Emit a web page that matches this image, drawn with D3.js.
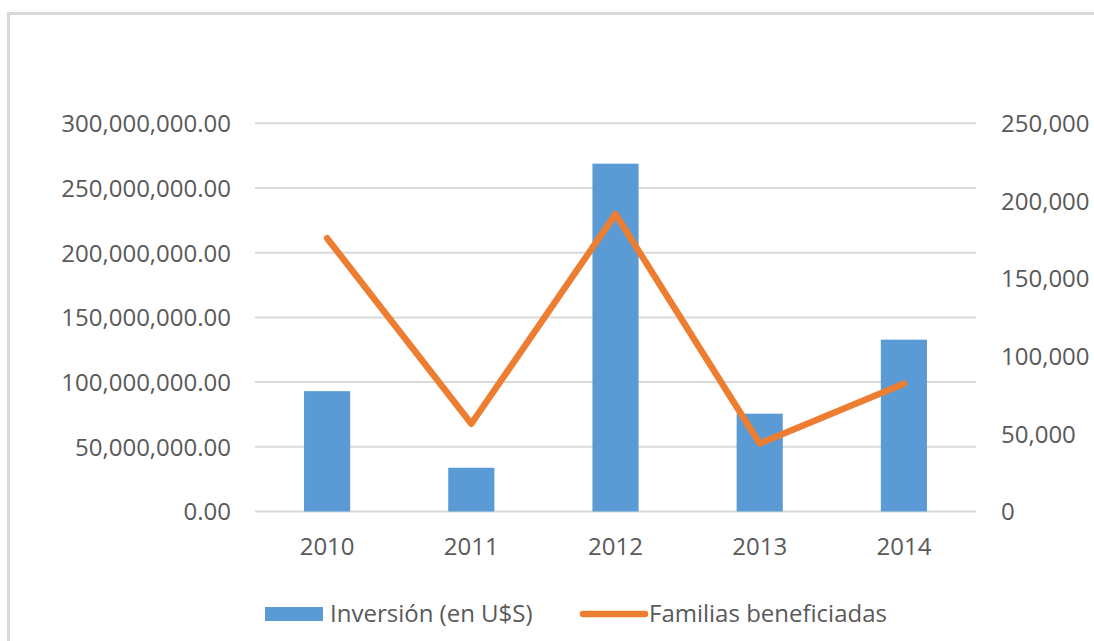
<!DOCTYPE html>
<html lang="es">
<head>
  <meta charset="UTF-8">
  <title>Inversión y familias beneficiadas</title>
  <script src="https://d3js.org/d3.v7.min.js"></script>
  <style>
    body, html {
      margin: 0;
      padding: 0;
      background-color: #fff;
      overflow: hidden;
    }
    svg {
      display: block;
    }
    svg text {
      font-family: 'Open Sans', sans-serif;
      font-size: 24px;
      fill: #595959;
    }
    .axis path, .axis line {
      stroke: none;
    }
  </style>
</head>
<body>
  <svg class="chart"></svg>

  <script>
    // data
    const years = ["2010", "2011", "2012", "2013", "2014"];
    const inversion = [93000000, 33800000, 268800000, 75600000, 132800000];
    const familias = [176000, 56500, 191500, 43800, 82300];
    const leftTicks = [0, 50000000, 100000000, 150000000, 200000000, 250000000, 300000000];
    const rightTicks = [0, 50000, 100000, 150000, 200000, 250000];

    const width = 1094;
    const height = 641;

    const svg = d3.select("svg")
      .attr("width", width)
      .attr("height", height);

    // chart frame, only the top and left edges are inside the window
    svg.append("rect")
      .attr("x", 8.5)
      .attr("y", 13.5)
      .attr("width", width + 100)
      .attr("height", height + 100)
      .attr("fill", "#fff")
      .attr("stroke", "#d9d9d9")
      .attr("stroke-width", 3);

    const plot = { left: 255, right: 976, top: 123.3, bottom: 511.5 };

    const xScale = d3.scaleBand()
      .domain(years)
      .range([plot.left, plot.right])
      .paddingInner(0.68)
      .paddingOuter(0.34);

    const yLeft = d3.scaleLinear()
      .domain([0, 300000000])
      .range([plot.bottom, plot.top]);

    const yRight = d3.scaleLinear()
      .domain([0, 250000])
      .range([plot.bottom, plot.top]);

    // gridlines from the left axis
    svg.append("g")
      .attr("class", "grid")
      .selectAll("line")
      .data(leftTicks)
      .enter().append("line")
      .attr("x1", plot.left)
      .attr("x2", plot.right)
      .attr("y1", d => yLeft(d))
      .attr("y2", d => yLeft(d))
      .style("stroke", "#d9d9d9")
      .style("stroke-width", 2);

    // bars
    svg.append("g")
      .selectAll("rect")
      .data(years)
      .enter().append("rect")
      .attr("x", d => xScale(d))
      .attr("width", xScale.bandwidth())
      .attr("y", (d, i) => yLeft(inversion[i]))
      .attr("height", (d, i) => yLeft(0) - yLeft(inversion[i]))
      .attr("fill", "#5b9bd5");

    // line on the right axis
    const line = d3.line()
      .x((d, i) => xScale(years[i]) + xScale.bandwidth() / 2)
      .y(d => yRight(d));

    svg.append("path")
      .datum(familias)
      .attr("d", line)
      .attr("fill", "none")
      .attr("stroke", "#ed7d31")
      .attr("stroke-width", 6.5)
      .attr("stroke-linejoin", "round")
      .attr("stroke-linecap", "round");

    // axes
    const leftAxis = d3.axisLeft(yLeft)
      .tickValues(leftTicks)
      .tickFormat(d3.format(",.2f"))
      .tickSize(0)
      .tickPadding(24);

    svg.append("g")
      .attr("class", "axis")
      .attr("transform", "translate(" + plot.left + ",0)")
      .call(leftAxis)
      .selectAll("text")
      .attr("dy", "0.35em");

    const rightAxis = d3.axisRight(yRight)
      .tickValues(rightTicks)
      .tickFormat(d3.format(","))
      .tickSize(0)
      .tickPadding(25);

    svg.append("g")
      .attr("class", "axis")
      .attr("transform", "translate(" + plot.right + ",0)")
      .call(rightAxis)
      .selectAll("text")
      .attr("dy", "0.35em");

    const xAxis = d3.axisBottom(xScale)
      .tickSize(0)
      .tickPadding(26);

    svg.append("g")
      .attr("class", "axis")
      .attr("transform", "translate(0," + plot.bottom + ")")
      .call(xAxis);

    // drop d3's default font attrs so the css applies
    svg.selectAll(".axis").attr("font-size", null).attr("font-family", null);
    svg.selectAll(".axis text").attr("fill", null);

    // legend
    const legend = svg.append("g").attr("transform", "translate(0,614)");

    legend.append("rect")
      .attr("x", 265)
      .attr("y", -7)
      .attr("width", 58)
      .attr("height", 14)
      .attr("fill", "#5b9bd5");

    legend.append("text")
      .attr("x", 330)
      .attr("y", 0)
      .attr("dy", "0.35em")
      .text("Inversión (en U$S)");

    legend.append("line")
      .attr("x1", 583)
      .attr("x2", 645)
      .attr("y1", 0)
      .attr("y2", 0)
      .attr("stroke", "#ed7d31")
      .attr("stroke-width", 6.5)
      .attr("stroke-linecap", "round");

    legend.append("text")
      .attr("x", 649)
      .attr("y", 0)
      .attr("dy", "0.35em")
      .text("Familias beneficiadas");
  </script>
</body>
</html>
